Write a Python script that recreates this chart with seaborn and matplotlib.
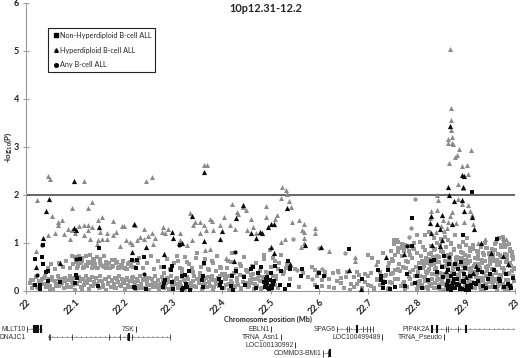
import matplotlib
matplotlib.use("Agg")
import matplotlib.pyplot as plt
from matplotlib.lines import Line2D
import pandas as pd
import seaborn as sns

# grey triangles
tri_grey_x = [22.023, 22.045, 22.05, 22.02, 22.118, 22.094, 22.126, 22.135, 22.053, 22.065,
              22.073, 22.065, 22.046, 22.06, 22.077, 22.085, 22.094, 22.09, 22.101, 22.108,
              22.118, 22.126, 22.135, 22.126, 22.118, 22.13, 22.148, 22.156, 22.178, 22.196,
              22.201, 22.184, 22.178, 22.165, 22.165, 22.152, 22.148, 22.155, 22.145, 22.193,
              22.205, 22.213, 22.223, 22.242, 22.246, 22.257, 22.257, 22.264, 22.25, 22.242,
              22.233, 22.226, 22.216, 22.26, 22.281, 22.291, 22.278, 22.285, 22.315, 22.315,
              22.329, 22.336, 22.346, 22.342, 22.356, 22.364, 22.376, 22.38, 22.397, 22.405,
              22.417, 22.421, 22.434, 22.431, 22.444, 22.45, 22.461, 22.465, 22.364, 22.371,
              22.383, 22.369, 22.356, 22.339, 22.366, 22.376, 22.41, 22.427, 22.451, 22.47,
              22.49, 22.49, 22.514, 22.51, 22.524, 22.531, 22.534, 22.522, 22.537, 22.541,
              22.543, 22.558, 22.568, 22.565, 22.568, 22.59, 22.59, 22.529, 22.522, 22.568,
              22.568, 22.562, 22.62, 22.673, 22.673, 22.715, 22.867, 22.869, 22.87, 22.87,
              22.863, 22.871, 22.864, 22.872, 22.873, 22.885, 22.91, 22.878, 22.881, 22.865,
              22.891, 22.901, 22.903, 22.884, 22.894, 22.841, 22.842, 22.884, 22.891, 22.903,
              22.908, 22.828, 22.84, 22.826, 22.871, 22.868, 22.896, 22.863, 22.915, 22.912,
              22.852, 22.939, 22.848, 22.855, 22.975, 22.981, 22.838, 22.86, 22.88, 22.925]
tri_grey_y = [1.88, 2.39, 2.32, 0.82, 2.28, 1.73, 1.73, 1.84, 1.56, 1.44,
              1.48, 1.36, 1.15, 1.19, 1.17, 1.29, 1.26, 1.08, 1.19, 1.35,
              1.36, 1.36, 1.33, 1.26, 1.15, 1.08, 1.48, 1.53, 1.46, 1.34,
              1.34, 1.22, 1.15, 1.19, 1.08, 1.22, 1.05, 1.08, 0.98, 0.92,
              1.05, 1.01, 1.36, 1.28, 2.28, 2.36, 1.19, 1.1, 1.13, 1.08,
              1.12, 1.05, 0.98, 0.98, 1.33, 1.29, 1.22, 1.19, 1.19, 1.05,
              0.94, 1.62, 1.43, 1.36, 1.43, 1.36, 1.5, 1.46, 1.36, 1.54,
              1.36, 1.81, 1.6, 1.64, 1.74, 1.68, 1.5, 1.33, 2.61, 2.61,
              1.26, 1.26, 1.19, 1.05, 0.84, 0.87, 0.67, 1.29, 1.26, 1.2,
              1.76, 1.53, 1.57, 1.5, 2.15, 2.1, 2.02, 1.94, 1.87, 1.74,
              1.44, 1.48, 1.38, 1.26, 1.22, 1.31, 1.2, 1.08, 1.01, 1.1,
              1.0, 0.91, 0.82, 0.69, 0.62, 0.56, 5.05, 3.8, 3.55, 3.36,
              3.17, 3.2, 3.08, 3.08, 3.05, 2.96, 2.93, 2.78, 2.82, 2.66,
              2.6, 2.62, 2.44, 2.23, 2.14, 1.99, 1.88, 1.9, 1.81, 1.78,
              1.65, 1.65, 1.67, 1.52, 1.64, 1.56, 1.43, 1.43, 1.38, 1.57,
              1.48, 1.07, 1.35, 1.25, 1.1, 1.08, 1.22, 1.3, 1.4, 1.0]

# grey squares
sq_grey_x = [22.008, 22.012, 22.015, 22.018, 22.02, 22.023, 22.026, 22.029, 22.032, 22.035,
             22.038, 22.041, 22.044, 22.047, 22.05, 22.053, 22.056, 22.059, 22.062, 22.065,
             22.068, 22.071, 22.074, 22.077, 22.08, 22.083, 22.086, 22.089, 22.092, 22.095,
             22.098, 22.101, 22.104, 22.107, 22.11, 22.113, 22.116, 22.119, 22.122, 22.125,
             22.128, 22.131, 22.134, 22.137, 22.14, 22.143, 22.146, 22.149, 22.152, 22.155,
             22.158, 22.161, 22.164, 22.167, 22.17, 22.173, 22.176, 22.179, 22.182, 22.185,
             22.188, 22.191, 22.194, 22.197, 22.2, 22.203, 22.206, 22.209, 22.212, 22.215,
             22.218, 22.221, 22.224, 22.227, 22.23, 22.233, 22.236, 22.239, 22.242, 22.245,
             22.248, 22.251, 22.254, 22.257, 22.26, 22.263, 22.266, 22.269, 22.272, 22.275,
             22.278, 22.281, 22.284, 22.287, 22.29, 22.293, 22.296, 22.299, 22.302, 22.305,
             22.308, 22.311, 22.314, 22.317, 22.32, 22.323, 22.326, 22.329, 22.332, 22.335,
             22.338, 22.341, 22.344, 22.347, 22.35, 22.353, 22.356, 22.359, 22.362, 22.365,
             22.368, 22.371, 22.374, 22.377, 22.38, 22.383, 22.386, 22.389, 22.392, 22.395,
             22.398, 22.401, 22.404, 22.407, 22.41, 22.413, 22.416, 22.419, 22.422, 22.425,
             22.428, 22.431, 22.434, 22.437, 22.44, 22.443, 22.446, 22.449, 22.452, 22.455,
             22.458, 22.461, 22.464, 22.467, 22.47, 22.473, 22.476, 22.479, 22.482, 22.485,
             22.488, 22.491, 22.494, 22.497, 22.5, 22.503, 22.506, 22.509, 22.512, 22.515,
             22.045, 22.052, 22.06, 22.067, 22.075, 22.082, 22.09, 22.097, 22.104, 22.11,
             22.116, 22.122, 22.128, 22.134, 22.14, 22.146, 22.152, 22.158, 22.164, 22.17,
             22.176, 22.182, 22.188, 22.194, 22.2, 22.206, 22.212, 22.218, 22.224, 22.23,
             22.094, 22.1, 22.108, 22.115, 22.123, 22.13, 22.137, 22.145, 22.152, 22.16,
             22.19, 22.197, 22.204, 22.214, 22.222, 22.232, 22.24, 22.248, 22.255, 22.262,
             22.27, 22.276, 22.282, 22.288, 22.295, 22.302, 22.308, 22.314, 22.32, 22.33,
             22.34, 22.348, 22.356, 22.364, 22.372, 22.38, 22.388, 22.396, 22.404, 22.412,
             22.42, 22.43, 22.44, 22.45, 22.46, 22.47, 22.478, 22.486, 22.494, 22.502,
             22.51, 22.516, 22.522, 22.528, 22.534, 22.54, 22.505, 22.512, 22.498, 22.486,
             22.518, 22.525, 22.532, 22.54, 22.55, 22.558, 22.566, 22.576, 22.584, 22.59,
             22.598, 22.606, 22.612, 22.62, 22.628, 22.636, 22.644, 22.65, 22.657, 22.664,
             22.59, 22.596, 22.605, 22.612, 22.62, 22.63, 22.638, 22.645, 22.655, 22.663,
             22.67, 22.676, 22.682, 22.688, 22.694, 22.7, 22.706, 22.712, 22.718, 22.724,
             22.73, 22.735, 22.74, 22.745, 22.75, 22.755, 22.76, 22.765, 22.77, 22.775,
             22.67, 22.676, 22.682, 22.688, 22.694, 22.7, 22.706, 22.712, 22.718, 22.724,
             22.73, 22.736, 22.742, 22.748, 22.754, 22.76, 22.766, 22.772, 22.778, 22.784,
             22.742, 22.748, 22.754, 22.76, 22.766, 22.772, 22.778, 22.784, 22.752, 22.758,
             22.74, 22.746, 22.75, 22.755, 22.762, 22.768, 22.775, 22.781, 22.786, 22.79,
             22.78, 22.785, 22.79, 22.795, 22.8, 22.805, 22.81, 22.815, 22.82, 22.825,
             22.83, 22.835, 22.84, 22.845, 22.85, 22.855, 22.86, 22.865, 22.87, 22.875,
             22.88, 22.885, 22.89, 22.895, 22.9, 22.905, 22.91, 22.915, 22.92, 22.925,
             22.93, 22.935, 22.94, 22.945, 22.95, 22.955, 22.96, 22.965, 22.97, 22.975,
             22.98, 22.985, 22.99, 22.995, 22.792, 22.797, 22.802, 22.807, 22.812, 22.817,
             22.822, 22.827, 22.832, 22.837, 22.842, 22.847, 22.852, 22.857, 22.862, 22.867,
             22.872, 22.877, 22.882, 22.887, 22.892, 22.897, 22.902, 22.907, 22.912, 22.917,
             22.922, 22.927, 22.932, 22.937, 22.942, 22.947, 22.952, 22.957, 22.962, 22.967,
             22.972, 22.977, 22.982, 22.987, 22.992, 22.997, 22.8, 22.808, 22.816, 22.824,
             22.828, 22.834, 22.84, 22.846, 22.852, 22.858, 22.864, 22.87, 22.876, 22.882,
             22.888, 22.894, 22.9, 22.906, 22.912, 22.918, 22.924, 22.93, 22.936, 22.942,
             22.948, 22.954, 22.96, 22.966, 22.972, 22.978, 22.984, 22.99, 22.996, 22.81,
             22.818, 22.826, 22.833, 22.838, 22.844, 22.85, 22.856, 22.861, 22.866, 22.873,
             22.879, 22.886, 22.893, 22.899, 22.904, 22.911, 22.919, 22.926, 22.933, 22.941,
             22.949, 22.956, 22.963, 22.97, 22.976, 22.983, 22.989, 22.994, 22.84, 22.848,
             22.856, 22.864, 22.87, 22.878, 22.885, 22.893, 22.901, 22.908, 22.915, 22.923,
             22.931, 22.938, 22.946, 22.953, 22.961, 22.968, 22.975, 22.982, 22.99, 22.996,
             22.752, 22.76, 22.768, 22.776, 22.784, 22.792, 22.8, 22.72, 22.708, 22.7,
             22.73, 22.746, 22.76, 22.772, 22.784, 22.794, 22.805, 22.815, 22.825, 22.835]
sq_grey_y = [0.15, 0.06, 0.22, 0.11, 0.29, 0.08, 0.19, 0.03, 0.25, 0.13,
             0.3, 0.07, 0.18, 0.24, 0.1, 0.28, 0.04, 0.2, 0.14, 0.31,
             0.09, 0.23, 0.16, 0.05, 0.27, 0.12, 0.21, 0.3, 0.08, 0.17,
             0.26, 0.02, 0.13, 0.29, 0.19, 0.07, 0.24, 0.11, 0.31, 0.16,
             0.04, 0.22, 0.28, 0.09, 0.18, 0.26, 0.13, 0.06, 0.3, 0.2,
             0.11, 0.25, 0.02, 0.16, 0.29, 0.08, 0.22, 0.13, 0.27, 0.05,
             0.18, 0.3, 0.1, 0.23, 0.15, 0.03, 0.26, 0.12, 0.2, 0.07,
             0.28, 0.17, 0.04, 0.24, 0.1, 0.31, 0.14, 0.21, 0.06, 0.27,
             0.18, 0.02, 0.12, 0.25, 0.08, 0.3, 0.16, 0.22, 0.04, 0.11,
             0.28, 0.19, 0.07, 0.15, 0.24, 0.03, 0.31, 0.1, 0.2, 0.13,
             0.26, 0.05, 0.17, 0.09, 0.29, 0.22, 0.02, 0.14, 0.25, 0.11,
             0.06, 0.19, 0.31, 0.08, 0.23, 0.15, 0.28, 0.03, 0.12, 0.2,
             0.26, 0.07, 0.17, 0.1, 0.3, 0.04, 0.22, 0.14, 0.27, 0.09,
             0.18, 0.34, 0.06, 0.24, 0.12, 0.3, 0.02, 0.2, 0.15, 0.36,
             0.08, 0.26, 0.11, 0.33, 0.04, 0.18, 0.28, 0.13, 0.4, 0.07,
             0.22, 0.16, 0.35, 0.03, 0.25, 0.1, 0.31, 0.19, 0.05, 0.28,
             0.14, 0.38, 0.08, 0.22, 0.02, 0.17, 0.3, 0.11, 0.25, 0.06,
             0.48, 0.55, 0.45, 0.58, 0.5, 0.62, 0.46, 0.55, 0.48, 0.59,
             0.47, 0.53, 0.6, 0.48, 0.56, 0.46, 0.61, 0.52, 0.47, 0.58,
             0.49, 0.63, 0.46, 0.54, 0.48, 0.44, 0.6, 0.5, 0.46, 0.57,
             0.72, 0.7, 0.73, 0.68, 0.72, 0.75, 0.65, 0.7, 0.66, 0.73,
             0.47, 0.5, 0.45, 0.55, 0.62, 0.68, 0.48, 0.58, 0.72, 0.44,
             0.62, 0.5, 0.36, 0.66, 0.44, 0.58, 0.72, 0.48, 0.38, 0.6,
             0.46, 0.68, 0.36, 0.56, 0.44, 0.62, 0.4, 0.5, 0.33, 0.46,
             0.6, 0.38, 0.52, 0.42, 0.32, 0.58, 0.4, 0.66, 0.36, 0.5,
             0.62, 0.44, 0.75, 0.38, 0.55, 0.46, 0.68, 0.3, 0.85, 0.74,
             0.58, 0.34, 0.47, 0.25, 0.44, 0.08, 0.36, 0.28, 0.5, 0.12,
             0.38, 0.22, 0.32, 0.08, 0.36, 0.2, 0.26, 0.05, 0.38, 0.14,
             0.42, 0.3, 0.1, 0.38, 0.24, 0.06, 0.4, 0.16, 0.28, 0.02,
             0.08, 0.38, 0.2, 0.04, 0.34, 0.12, 0.37, 0.05, 0.25, 0.38,
             0.1, 0.3, 0.03, 0.18, 0.36, 0.07, 0.24, 0.4, 0.14, 0.02,
             0.28, 0.14, 0.33, 0.06, 0.18, 0.3, 0.1, 0.03, 0.22, 0.12,
             0.2, 0.32, 0.06, 0.15, 0.25, 0.42, 0.09, 0.18, 0.48, 0.28,
             0.58, 0.66, 0.74, 0.8, 0.88, 0.86, 0.92, 0.83, 0.98, 1.05,
             0.5, 0.35, 0.62, 0.42, 0.55, 0.72, 0.46, 0.6, 0.38, 0.67,
             0.08, 0.25, 0.14, 0.31, 0.04, 0.2, 0.12, 0.28, 0.07, 0.18,
             0.34, 0.05, 0.22, 0.11, 0.3, 0.02, 0.16, 0.27, 0.08, 0.2,
             0.13, 0.32, 0.04, 0.24, 0.1, 0.18, 0.29, 0.06, 0.15, 0.26,
             0.03, 0.21, 0.12, 0.3, 0.07, 0.17, 0.25, 0.09, 0.33, 0.14,
             0.04, 0.22, 0.11, 0.28, 0.42, 0.5, 0.38, 0.58, 0.46, 0.64,
             0.4, 0.55, 0.7, 0.44, 0.6, 0.36, 0.52, 0.72, 0.42, 0.6,
             0.36, 0.5, 0.66, 0.4, 0.56, 0.74, 0.44, 0.62, 0.35, 0.52,
             0.68, 0.42, 0.58, 0.36, 0.5, 0.76, 0.44, 0.62, 0.38, 0.54,
             0.7, 0.42, 0.6, 0.36, 0.52, 0.44, 0.78, 0.72, 0.85, 0.76,
             0.92, 0.84, 0.72, 0.96, 0.8, 0.9, 0.74, 1.0, 0.84, 0.7,
             0.9, 0.78, 0.95, 0.72, 0.86, 0.68, 0.82, 0.96, 0.74, 0.88,
             0.7, 0.84, 0.98, 0.76, 0.9, 1.0, 0.74, 0.86, 0.66, 0.62,
             0.58, 0.66, 0.56, 0.64, 0.7, 0.52, 0.62, 0.54, 0.66, 0.5,
             0.6, 0.68, 0.52, 0.64, 0.58, 0.46, 0.68, 0.56, 0.64, 0.5,
             0.62, 0.7, 0.54, 0.6, 0.48, 0.66, 0.58, 0.72, 1.0, 1.08,
             1.12, 1.05, 0.98, 1.15, 0.92, 1.02, 1.1, 0.88, 0.95, 0.82,
             0.9, 1.0, 0.78, 0.86, 1.02, 1.1, 1.12, 0.94, 0.82, 0.7,
             1.05, 1.02, 0.98, 0.96, 0.92, 0.88, 1.15, 0.6, 0.68, 0.74,
             0.78, 0.82, 0.88, 0.82, 0.92, 1.0, 1.02, 1.15, 1.22, 1.1]

# more of the grey squares, left block and the mid band
sq_left_x = [22.011, 22.017, 22.024, 22.03, 22.037, 22.043, 22.049, 22.054, 22.061, 22.067,
             22.072, 22.079, 22.085, 22.091, 22.096, 22.103, 22.109, 22.114, 22.12, 22.127,
             22.133, 22.139, 22.144, 22.15, 22.157, 22.163, 22.168, 22.175, 22.181, 22.186,
             22.193, 22.198, 22.205, 22.211, 22.216, 22.223, 22.229, 22.234, 22.241, 22.247,
             22.252, 22.259, 22.265, 22.27, 22.277, 22.283, 22.289, 22.294, 22.301, 22.307,
             22.312, 22.319, 22.325, 22.33, 22.337, 22.343, 22.349, 22.354, 22.361, 22.367,
             22.373, 22.379, 22.385, 22.39, 22.397, 22.403, 22.409, 22.415, 22.421, 22.427,
             22.432, 22.439, 22.445, 22.451, 22.457, 22.463, 22.469, 22.475, 22.481, 22.487,
             22.106, 22.112, 22.118, 22.124, 22.13, 22.136, 22.142, 22.148, 22.154, 22.16,
             22.166, 22.172, 22.178, 22.184, 22.19, 22.196, 22.202, 22.208, 22.214, 22.22,
             22.103, 22.115, 22.127, 22.139, 22.151, 22.163, 22.175, 22.187, 22.199, 22.211,
             22.31, 22.318, 22.326, 22.334, 22.342, 22.35, 22.358, 22.366, 22.374, 22.382,
             22.39, 22.398, 22.406, 22.414, 22.422, 22.43, 22.438, 22.446, 22.454, 22.462]
sq_left_y = [0.21, 0.12, 0.05, 0.17, 0.26, 0.14, 0.02, 0.22, 0.09, 0.25,
             0.14, 0.2, 0.07, 0.24, 0.12, 0.16, 0.28, 0.04, 0.2, 0.25,
             0.1, 0.15, 0.27, 0.19, 0.08, 0.23, 0.14, 0.19, 0.05, 0.25,
             0.11, 0.17, 0.21, 0.08, 0.27, 0.13, 0.19, 0.05, 0.24, 0.11,
             0.26, 0.16, 0.07, 0.21, 0.13, 0.05, 0.26, 0.18, 0.09, 0.23,
             0.14, 0.05, 0.2, 0.29, 0.16, 0.09, 0.25, 0.19, 0.05, 0.14,
             0.28, 0.21, 0.08, 0.17, 0.31, 0.05, 0.23, 0.14, 0.33, 0.09,
             0.2, 0.05, 0.3, 0.16, 0.09, 0.24, 0.13, 0.27, 0.03, 0.2,
             0.51, 0.57, 0.49, 0.52, 0.58, 0.5, 0.56, 0.48, 0.53, 0.5,
             0.55, 0.47, 0.52, 0.57, 0.5, 0.53, 0.48, 0.56, 0.52, 0.49,
             0.6, 0.61, 0.59, 0.62, 0.58, 0.6, 0.63, 0.59, 0.61, 0.58,
             0.62, 0.45, 0.7, 0.55, 0.38, 0.78, 0.5, 0.66, 0.42, 0.58,
             0.72, 0.48, 0.35, 0.62, 0.78, 0.44, 0.56, 0.7, 0.38, 0.52]

# more of the grey squares, right block
sq_right_x = [22.801, 22.806, 22.811, 22.816, 22.821, 22.826, 22.831, 22.836, 22.841, 22.846,
              22.851, 22.856, 22.861, 22.866, 22.871, 22.876, 22.881, 22.886, 22.891, 22.896,
              22.901, 22.906, 22.911, 22.916, 22.921, 22.926, 22.931, 22.936, 22.941, 22.946,
              22.951, 22.956, 22.961, 22.966, 22.971, 22.976, 22.981, 22.986, 22.991, 22.996,
              22.803, 22.809, 22.814, 22.819, 22.824, 22.829, 22.834, 22.839, 22.844, 22.849,
              22.854, 22.859, 22.864, 22.869, 22.874, 22.879, 22.884, 22.889, 22.894, 22.899,
              22.904, 22.909, 22.914, 22.919, 22.924, 22.929, 22.934, 22.939, 22.944, 22.949,
              22.954, 22.959, 22.964, 22.969, 22.974, 22.979, 22.984, 22.989, 22.994, 22.998,
              22.802, 22.807, 22.813, 22.818, 22.823, 22.828, 22.833, 22.838, 22.843, 22.848,
              22.853, 22.858, 22.863, 22.868, 22.873, 22.878, 22.883, 22.888, 22.893, 22.898,
              22.903, 22.908, 22.913, 22.918, 22.923, 22.928, 22.933, 22.938, 22.943, 22.948,
              22.953, 22.958, 22.963, 22.968, 22.973, 22.978, 22.983, 22.988, 22.993, 22.997,
              22.804, 22.812, 22.82, 22.828, 22.836, 22.844, 22.852, 22.86, 22.868, 22.876,
              22.884, 22.892, 22.9, 22.908, 22.916, 22.924, 22.932, 22.94, 22.948, 22.956,
              22.964, 22.972, 22.98, 22.988, 22.996, 22.77, 22.778, 22.786, 22.794, 22.76]
sq_right_y = [0.12, 0.3, 0.05, 0.2, 0.36, 0.1, 0.25, 0.16, 0.33, 0.03,
              0.22, 0.14, 0.3, 0.08, 0.19, 0.37, 0.11, 0.25, 0.05, 0.33,
              0.16, 0.22, 0.09, 0.38, 0.28, 0.13, 0.2, 0.04, 0.31, 0.17,
              0.24, 0.1, 0.36, 0.18, 0.28, 0.06, 0.22, 0.34, 0.12, 0.3,
              0.46, 0.6, 0.52, 0.68, 0.44, 0.78, 0.56, 0.46, 0.7, 0.82,
              0.5, 0.62, 0.44, 0.76, 0.54, 0.68, 0.46, 0.8, 0.6, 0.5,
              0.72, 0.44, 0.86, 0.56, 0.66, 0.46, 0.78, 0.62, 0.52, 0.7,
              0.44, 0.84, 0.58, 0.74, 0.48, 0.9, 0.62, 0.52, 0.8, 0.46,
              0.18, 0.08, 0.28, 0.38, 0.04, 0.14, 0.34, 0.06, 0.24, 0.14,
              0.34, 0.05, 0.26, 0.15, 0.41, 0.06, 0.32, 0.18, 0.4, 0.1,
              0.28, 0.38, 0.17, 0.05, 0.36, 0.07, 0.27, 0.14, 0.41, 0.08,
              0.33, 0.2, 0.04, 0.26, 0.13, 0.36, 0.1, 0.02, 0.41, 0.2,
              0.58, 0.9, 0.64, 0.54, 0.86, 0.6, 0.8, 0.52, 0.62, 0.86,
              0.54, 0.68, 0.58, 0.82, 0.52, 0.74, 0.6, 0.88, 0.56, 0.78,
              0.64, 0.96, 0.76, 0.98, 0.68, 0.5, 0.62, 0.74, 0.86, 0.44]

# grey circles (mostly behind the squares)
circ_grey_x = [22.796, 22.545, 22.6, 22.788, 22.784, 22.652, 22.638, 22.605, 22.585, 22.555]
circ_grey_y = [1.9, 1.08, 0.88, 1.3, 1.11, 0.78, 0.38, 0.45, 0.25, 0.42]

# black triangles
tri_black_x = [22.098, 22.048, 22.04, 22.035, 22.098, 22.102, 22.15, 22.221, 22.216, 22.245,
               22.363, 22.339, 22.365, 22.282, 22.298, 22.301, 22.318, 22.4, 22.397, 22.429,
               22.443, 22.426, 22.461, 22.471, 22.478, 22.534, 22.5, 22.507, 22.495, 22.483,
               22.571, 22.604, 22.5, 22.508, 22.539, 22.66, 22.686, 22.737, 22.772, 22.863,
               22.865, 22.876, 22.892, 22.891, 22.896, 22.894, 22.896, 22.912, 22.917, 22.829,
               22.851, 22.826, 22.84, 22.846, 22.828, 22.871, 22.93, 22.95, 22.867, 22.02,
               22.069, 22.83, 22.846, 22.85, 22.858, 22.9, 22.92, 22.975, 22.985, 22.915]
tri_black_y = [2.28, 1.9, 1.65, 1.1, 1.31, 1.27, 1.33, 1.38, 0.81, 0.9,
               2.47, 1.55, 1.03, 0.77, 1.22, 1.1, 0.99, 1.24, 1.08, 1.52,
               1.78, 0.61, 1.19, 1.1, 1.22, 1.73, 1.38, 1.38, 1.33, 1.19,
               0.94, 0.9, 0.91, 0.78, 0.55, 0.42, 0.04, 0.7, 0.76, 2.16,
               2.0, 1.86, 1.88, 2.42, 2.39, 2.17, 1.66, 1.53, 1.28, 1.55,
               1.57, 1.41, 1.38, 1.28, 1.2, 1.38, 0.99, 0.78, 3.43, 0.49,
               0.58, 0.95, 0.92, 1.05, 0.4, 0.28, 0.52, 0.72, 0.55, 0.36]

# black squares
sq_black_x = [22.019, 22.033, 22.029, 22.034, 22.04, 22.044, 22.046, 22.019, 22.029, 22.035,
              22.046, 22.069, 22.1, 22.102, 22.105, 22.111, 22.15, 22.148, 22.216, 22.22,
              22.224, 22.222, 22.228, 22.245, 22.242, 22.282, 22.285, 22.28, 22.282, 22.298,
              22.3, 22.296, 22.298, 22.315, 22.32, 22.326, 22.322, 22.334, 22.318, 22.328,
              22.33, 22.336, 22.363, 22.36, 22.361, 22.362, 22.395, 22.397, 22.398, 22.4,
              22.42, 22.422, 22.424, 22.43, 22.445, 22.447, 22.46, 22.465, 22.47, 22.475,
              22.48, 22.486, 22.49, 22.495, 22.5, 22.505, 22.49, 22.51, 22.52, 22.522,
              22.53, 22.538, 22.535, 22.54, 22.562, 22.565, 22.6, 22.595, 22.61, 22.66,
              22.687, 22.72, 22.725, 22.73, 22.735, 22.74, 22.73, 22.745, 22.725, 22.755,
              22.775, 22.78, 22.789, 22.79, 22.8, 22.81, 22.828, 22.84, 22.85, 22.853,
              22.86, 22.862, 22.864, 22.866, 22.87, 22.872, 22.878, 22.884, 22.888, 22.893,
              22.9, 22.908, 22.913, 22.894, 22.92, 22.932, 22.94, 22.945, 22.958, 22.964,
              22.97, 22.978, 22.982, 22.99, 22.995, 22.862, 22.87, 22.882, 22.895, 22.905,
              22.795, 22.805, 22.822, 22.835, 22.845, 22.855, 22.876, 22.888, 22.898, 22.925,
              22.935, 22.948, 22.96, 22.968, 22.985, 22.992, 22.875, 22.89, 22.91, 22.925,
              22.488, 22.493, 22.497, 22.502, 22.507, 22.492, 22.499, 22.504, 22.866, 22.869,
              22.874, 22.878, 22.882, 22.886, 22.891, 22.896, 22.901, 22.906, 22.911, 22.916]
sq_black_y = [0.65, 0.7, 0.04, 0.55, 0.38, 0.41, 0.2, 0.12, 0.12, 0.94,
              0.4, 0.17, 0.15, 0.33, 0.26, 0.66, 0.88, 0.1, 0.64, 0.08,
              0.47, 0.06, 0.64, 0.04, 0.69, 0.49, 0.22, 0.08, 0.15, 0.51,
              0.03, 0.42, 0.18, 0.94, 0.3, 0.33, 0.06, 0.4, 0.02, 0.14,
              0.08, 0.02, 0.58, 0.22, 0.08, 0.31, 0.24, 0.12, 0.18, 0.06,
              0.1, 0.3, 0.02, 0.4, 0.28, 0.12, 0.45, 0.5, 0.05, 0.36,
              0.5, 0.18, 0.1, 0.05, 0.36, 0.14, 0.25, 0.52, 0.12, 0.4,
              0.03, 0.12, 0.62, 0.45, 0.3, 0.45, 0.36, 0.08, 0.3, 0.86,
              0.25, 0.42, 0.3, 0.06, 0.18, 0.42, 0.15, 0.03, 0.22, 0.08,
              0.1, 0.35, 1.52, 0.92, 0.3, 0.06, 0.62, 0.38, 0.5, 0.28,
              0.12, 0.04, 0.2, 0.55, 0.3, 0.1, 0.56, 0.45, 0.05, 0.2,
              0.02, 0.3, 2.05, 1.15, 0.14, 0.38, 0.06, 0.25, 0.42, 1.08,
              0.2, 0.08, 0.35, 0.1, 0.26, 0.42, 0.06, 0.14, 0.34, 0.05,
              0.16, 0.48, 0.22, 0.64, 0.08, 0.72, 0.24, 0.04, 0.48, 0.2,
              0.1, 0.34, 0.07, 0.24, 0.14, 0.06, 0.34, 0.6, 0.12, 0.42,
              0.08, 0.16, 0.03, 0.1, 0.2, 0.28, 0.22, 0.05, 0.1, 0.02,
              0.15, 0.06, 0.24, 0.12, 0.03, 0.18, 0.1, 0.02, 0.07, 0.15]

# black circles
circ_black_x = [22.033, 22.313, 22.427, 22.103, 22.022, 22.242, 22.78, 22.865]
circ_black_y = [0.94, 0.94, 0.8, 0.66, 0.33, 0.35, 0.92, 0.7]

y_ticks = [0, 1, 2, 3, 4, 5, 6]
x_ticks = [22, 22.1, 22.2, 22.3, 22.4, 22.5, 22.6, 22.7, 22.8, 22.9, 23]
x_tick_labels = ["22", "22.1", "22.2", "22.3", "22.4", "22.5", "22.6", "22.7", "22.8", "22.9", "23"]
legend_labels = ["Non-Hyperdiploid B-cell ALL", "Hyperdiploid B-cell ALL", "Any B-cell ALL"]

# gene name, row, where the name ends, start, end, thin exons, thick exons
genes = [
    ("MLLT10", 0, 22.0, 22.003, 22.033, [22.003], [22.016, 22.021, 22.025, 22.03]),
    ("DNAJC1", 1, 22.0, 22.046, 22.295, [22.047, 22.049, 22.095, 22.17, 22.192, 22.207, 22.216, 22.294], [22.21]),
    ("COMMD3-BMI1", 3, 22.605, 22.608, 22.622, [22.608, 22.618], [22.621]),
    ("SPAG6", 0, 22.634, 22.637, 22.71, [22.637, 22.656, 22.66, 22.689, 22.697, 22.704, 22.71], [22.676]),
    ("PIP4K2A", 0, 22.827, 22.83, 23.0, [22.859, 22.864, 22.884], [22.831, 22.84, 22.9]),
]
# single marks with the name in front of them
small_genes = [
    ("7SK", 0, 22.225),
    ("EBLN1", 0, 22.501),
    ("TRNA_Asn1", 1, 22.521),
    ("LOC100130992", 2, 22.551),
    ("LOC100499489", 1, 22.728),
    ("TRNA_Pseudo", 1, 22.855),
]

sns.set_style("ticks")
plt.rcParams['font.family'] = ['Lato', 'DejaVu Sans']
plt.rcParams['mathtext.fontset'] = 'custom'
plt.rcParams['mathtext.bf'] = 'Lato:bold'

W, H = 520, 358
fig = plt.figure(figsize=(W / 100, H / 100), dpi=100)
ax = fig.add_axes([26 / W, 1 - 290.5 / H, 489 / W, 287.5 / H])


def draw(xs, ys, marker, color, size):
    df = pd.DataFrame({"pos": xs, "logp": ys})
    sns.scatterplot(data=df, x="pos", y="logp", marker=marker, color=color, s=size,
                    linewidth=0, ax=ax, clip_on=False, zorder=3)


draw(sq_grey_x + sq_left_x + sq_right_x, sq_grey_y + sq_left_y + sq_right_y, "s", "#989898", 12)
draw(circ_grey_x, circ_grey_y, "o", "#989898", 10)
draw(tri_grey_x, tri_grey_y, "^", "#8a8a8a", 13)
draw(sq_black_x, sq_black_y, "s", "#0a0a0a", 8)
draw(circ_black_x, circ_black_y, "o", "#0a0a0a", 9)
draw(tri_black_x, tri_black_y, "^", "#0a0a0a", 14)

ax.axhline(2, color="#3c3c3c", lw=1.1, zorder=2)

ax.set_xlim(22, 23)
ax.set_ylim(0, 6)
ax.set_xticks(x_ticks)
ax.set_xticklabels(x_tick_labels, rotation=45, ha="right", rotation_mode="anchor",
                   fontsize=6.5, fontweight="bold", color="#222222")
ax.set_yticks(y_ticks)
ax.set_yticklabels([str(v) for v in y_ticks], fontsize=6.5, fontweight="bold", color="#222222")
ax.tick_params(axis="both", direction="inout", length=4, width=0.7, color="#999999", pad=3)
ax.set_xlabel("")
ax.set_ylabel("")
sns.despine(ax=ax)
ax.spines["left"].set_color("#999999")
ax.spines["bottom"].set_color("#999999")
ax.patch.set_alpha(0)

fig.text(265.5 / W, 1 - 9 / H, "10p12.31-12.2", fontsize=7.9, fontweight="bold", ha="center", va="center")
fig.text(8 / W, 1 - 147 / H, "-log$_{\\mathbf{10}}$(P)", fontsize=5.8, fontweight="bold", rotation=90,
         ha="center", va="center")
fig.text(267.5 / W, 1 - 319 / H, "Chromosome position (Mb)", fontsize=5.2, fontweight="bold",
         ha="center", va="center")

handles = [Line2D([], [], ls="", marker=m, color="black", ms=2.6) for m in ["s", "^", "o"]]
leg = ax.legend(handles, legend_labels, loc="upper left", bbox_to_anchor=(22 / 489, 1 - 25 / 287.5),
                fontsize=5.2, frameon=True, fancybox=False, framealpha=1, edgecolor="#222222",
                labelspacing=1.05, handlelength=1.0, handletextpad=0.1, borderpad=0.55, borderaxespad=0)
leg.get_frame().set_linewidth(0.8)
leg.set_zorder(5)

# gene track under the axis, same x scale
gx = fig.add_axes([26 / W, 0, 489 / W, 37 / H])
gx.set_xlim(22, 23)
gx.set_ylim(3.6, -1)
gx.axis("off")
gene_font = ["Liberation Sans", "DejaVu Sans"]
for name, row, name_end, start, end, thin, thick in genes:
    gx.hlines(row, start, end, color="#888888", lw=0.5, clip_on=False)
    gx.hlines(row, start, end, color="#666666", lw=1.4, linestyles=(0, (0.25, 2.2)), clip_on=False)
    gx.vlines(thin, row - 0.42, row + 0.42, color="#333333", lw=0.6, clip_on=False)
    gx.vlines(thick, row - 0.5, row + 0.5, color="#111111", lw=1.5, clip_on=False)
    gx.text(name_end, row, name, fontsize=4.9, family=gene_font, color="#333333",
            ha="right", va="center")
for name, row, pos in small_genes:
    gx.vlines(pos, row - 0.38, row + 0.38, color="#333333", lw=0.7)
    gx.text(pos - 0.003, row, name, fontsize=4.9, family=gene_font, color="#333333",
            ha="right", va="center")

fig.savefig("out.png", dpi=100)
